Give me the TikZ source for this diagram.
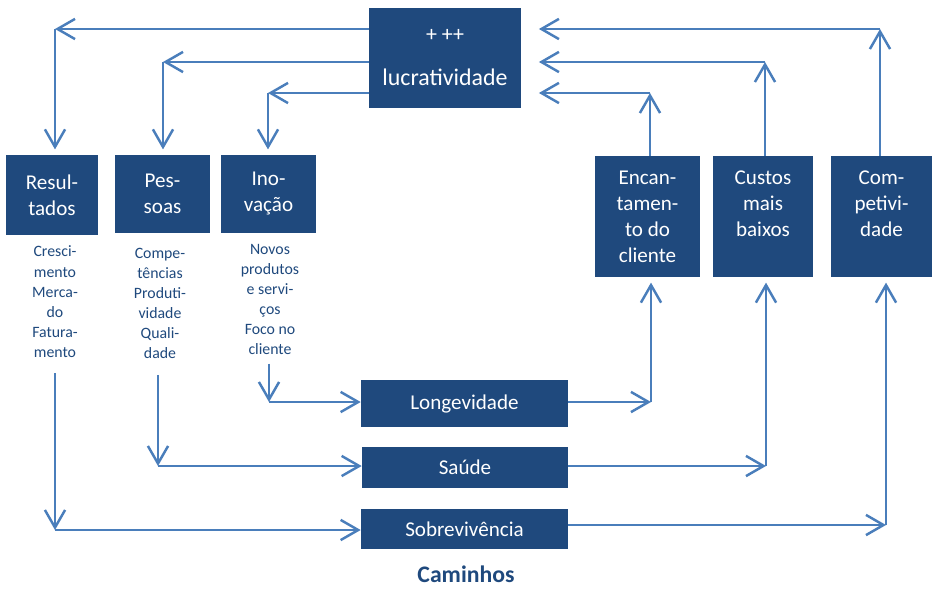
\documentclass[tikz,border=0pt]{standalone}
\usepackage{fontspec}
\setmainfont{Carlito}
\usetikzlibrary{arrows.meta}
\definecolor{boxblue}{HTML}{1F497D}
\definecolor{arrblue}{HTML}{4A7EBB}
\begin{document}
\begin{tikzpicture}[
  x=0.02cm, y=-0.02cm,
  bbox/.style={fill=boxblue, text=white, align=center, inner sep=2pt,
               font=\fontsize{12}{14.8}\selectfont},
  topbox/.style={bbox, minimum height=2.42cm},
  note/.style={text=boxblue, align=center, anchor=north, inner sep=1pt,
               font=\fontsize{9}{11.4}\selectfont},
  arr/.style={draw=arrblue, line width=1.4pt, -{Straight Barb[length=10pt,width=11.5pt]}},
]
  \useasboundingbox (0,0) rectangle (932,588);

  % Lucratividade box
  \node[bbox, minimum width=3.04cm, minimum height=2cm,
        font=\fontsize{12.5}{15}\selectfont] (lucr) at (445,58)
        {+ ++\\[10pt]{\fontsize{13.6}{15}\selectfont lucratividade}};

  % Left row
  \node[bbox, minimum width=1.84cm, minimum height=1.6cm]  (res) at (52,195)    {Resul-\\tados};
  \node[bbox, minimum width=1.9cm,  minimum height=1.56cm] (pes) at (162.5,194) {Pes-\\soas};
  \node[bbox, minimum width=1.9cm,  minimum height=1.56cm] (ino) at (268.5,194) {Ino-\\vação};

  \node[note] (resN) at (55,244)  {Cresci-\\mento\\Merca-\\do\\Fatura-\\mento};
  \node[note] (pesN) at (160,246) {Compe-\\tências\\Produti-\\vidade\\Quali-\\dade};
  \node[note] (inoN) at (270,242) {Novos\\produtos\\e servi-\\ços\\Foco no\\cliente};

  % Right row (text kept at the top)
  \node[topbox, minimum width=2.1cm]  (enc) at (647.5,216.5) {Encan-\\tamen-\\to do\\cliente};
  \node[topbox, minimum width=2.0cm, text depth=14.8pt]  (cus) at (763,216.5)   {Custos\\mais\\baixos};
  \node[topbox, minimum width=2.02cm, text depth=14.8pt] (com) at (881.5,216.5) {Com-\\petivi-\\dade};

  % Caminhos
  \node[bbox, minimum width=4.14cm, minimum height=0.94cm] (lon) at (464.5,403.5) {Longevidade};
  \node[bbox, minimum width=4.12cm, minimum height=0.82cm] (sau) at (465,467.5)   {Saúde};
  \node[bbox, minimum width=4.14cm, minimum height=0.8cm]  (sob) at (464.5,529)   {Sobrevivência};
  \node[text=boxblue, inner sep=0pt, font=\fontsize{13.5}{16}\selectfont\bfseries] (cam) at (466,574) {Caminhos};

  % corners
  \coordinate (t1) at (55,29);
  \coordinate (t2) at (163,62);
  \coordinate (t3) at (268,93);
  \coordinate (r1) at (650,93);
  \coordinate (r2) at (765,62);
  \coordinate (r3) at (880,29);
  \coordinate (b1) at (55,530);
  \coordinate (b2) at (158,466);
  \coordinate (b3) at (269,402);
  \coordinate (b4) at (651,402);
  \coordinate (b5) at (766,466);
  \coordinate (b6) at (886,525);

  % lucratividade down to the left row
  \draw[arr] (lucr.west |- t1) -- (t1);
  \draw[arr] (t1) -- (t1 |- res.north) [shorten >=3pt];
  \draw[arr] (lucr.west |- t2) -- (t2);
  \draw[arr] (t2) -- (t2 |- pes.north) [shorten >=3pt];
  \draw[arr] (lucr.west |- t3) -- (t3);
  \draw[arr] (t3) -- (t3 |- ino.north) [shorten >=3pt];

  % right row up to lucratividade
  \draw[arr] (r1 |- enc.north) -- (r1);
  \draw[arr, shorten >=10pt] (r1) -- (r1 -| lucr.east);
  \draw[arr] (r2 |- cus.north) -- (r2);
  \draw[arr, shorten >=10pt] (r2) -- (r2 -| lucr.east);
  \draw[arr] (r3 |- com.north) -- (r3);
  \draw[arr, shorten >=10pt] (r3) -- (r3 -| lucr.east);

  % left row down to the caminhos
  \draw[arr, shorten <=8pt] (resN.south -| b1) -- (b1);
  \draw[arr] (b1) -- (sob.west |- b1);
  \draw[arr, shorten <=8pt] (pesN.south -| b2) -- (b2);
  \draw[arr] (b2) -- (sau.west |- b2);
  \draw[arr, shorten <=4pt] (inoN.south -| b3) -- (b3);
  \draw[arr] (b3) -- (lon.west |- b3);

  % caminhos up to the right row
  \draw[arr] (lon.east |- b4) -- (b4);
  \draw[arr, shorten >=3pt] (b4) -- (b4 |- enc.south);
  \draw[arr] (sau.east |- b5) -- (b5);
  \draw[arr, shorten >=3pt] (b5) -- (b5 |- cus.south);
  \draw[arr] (sob.east |- b6) -- (b6);
  \draw[arr, shorten >=3pt] (b6) -- (b6 |- com.south);
\end{tikzpicture}
\end{document}
